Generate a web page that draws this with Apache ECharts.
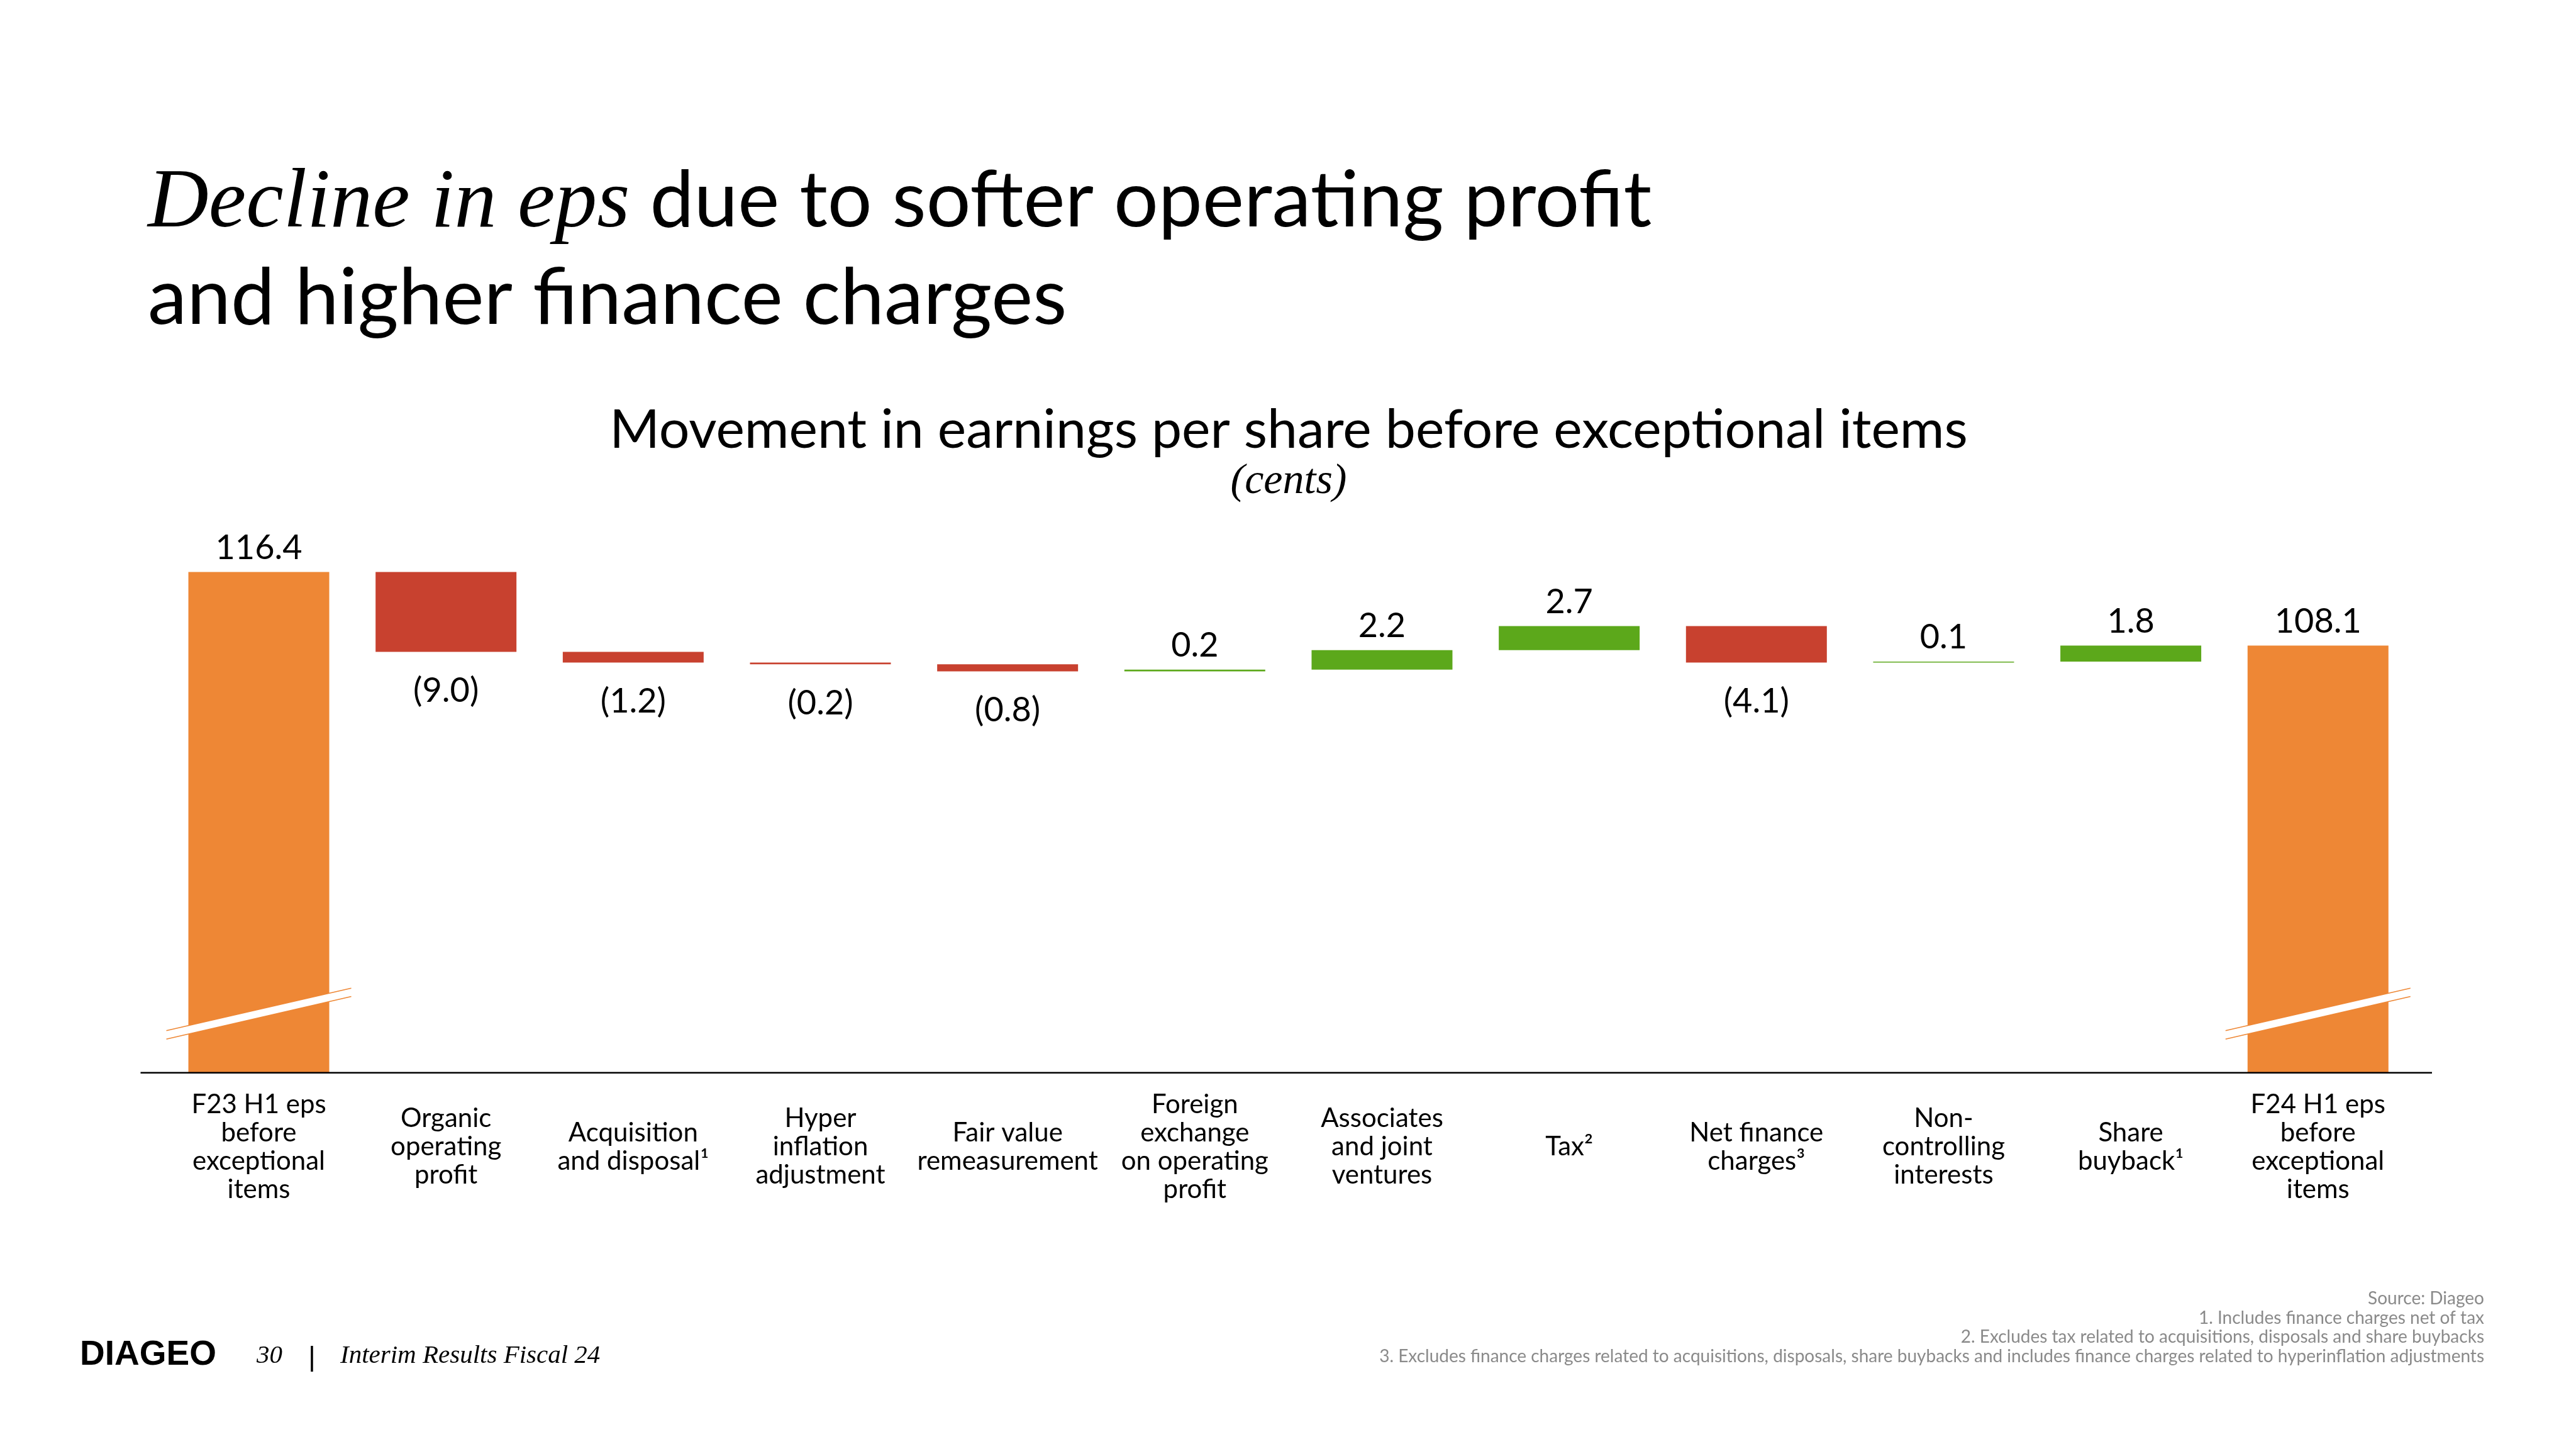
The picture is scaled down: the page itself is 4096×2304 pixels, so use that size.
<!DOCTYPE html>
<html><head><meta charset="utf-8">
<script src="https://cdn.jsdelivr.net/npm/echarts@6/dist/echarts.min.js"></script>
<style>html,body{margin:0;padding:0;background:#fff}#c{width:4096px;height:2304px}</style>
</head><body><div id="c"></div>
<script>
// ---------- data ----------
const categories = [
  'F23 H1 eps\nbefore\nexceptional\nitems',
  'Organic\noperating\nprofit',
  'Acquisition\nand disposal¹',
  'Hyper\ninflation\nadjustment',
  'Fair value\nremeasurement',
  'Foreign\nexchange\non operating\nprofit',
  'Associates\nand joint\nventures',
  'Tax²',
  'Net finance\ncharges³',
  'Non-\ncontrolling\ninterests',
  'Share\nbuyback¹',
  'F24 H1 eps\nbefore\nexceptional\nitems'
];
const startTotal = 116.4;
const endTotal = 108.1;
const movements = [-9.0, -1.2, -0.2, -0.8, 0.2, 2.2, 2.7, -4.1, 0.1, 1.8];
const axisMin = 60;
const axisMax = 120;
const footnotes = [
  'Source: Diageo',
  '1. Includes finance charges net of tax',
  '2. Excludes tax related to acquisitions, disposals and share buybacks',
  '3. Excludes finance charges related to acquisitions, disposals, share buybacks and includes finance charges related to hyperinflation adjustments'
];

// ---------- styling ----------
const ORANGE = '#EE8735', RED = '#C8412F', GREEN = '#5CA81B';
const SANS = 'Lato', SERIF = '"Liberation Serif"';

// ---------- build waterfall series ----------
const totalsData = categories.map(() => '-');
totalsData[0] = startTotal;
totalsData[categories.length - 1] = endTotal;
const baseData = ['-'];
const deltaData = [{ value: '-' }];
let level = startTotal;
movements.forEach(m => {
  const next = level + m;
  baseData.push(+Math.min(level, next).toFixed(2));
  deltaData.push({
    value: Math.abs(m),
    itemStyle: { color: m < 0 ? RED : GREEN },
    label: { position: m < 0 ? 'bottom' : 'top', distance: m < 0 ? 35 : 11 }
  });
  level = next;
});
baseData.push('-');
deltaData.push({ value: '-' });

const chart = echarts.init(document.getElementById('c'), null, { renderer: 'canvas', width: 4096, height: 2304 });
const labelStyle = { show: true, fontFamily: SANS, fontSize: 54, color: '#000' };

chart.setOption({
  animation: false,
  backgroundColor: '#fff',
  grid: { left: 262.7, right: 261.4, top: 858.6, bottom: 598.3, containLabel: false, outerBoundsMode: 'none' },
  xAxis: {
    type: 'category', data: categories,
    axisLine: { show: false }, axisTick: { show: false }, splitLine: { show: false },
    axisLabel: { interval: 0, fontFamily: SANS, fontSize: 42, lineHeight: 45, color: '#000',
                 margin: 118, verticalAlign: 'middle', align: 'center' }
  },
  yAxis: { type: 'value', min: axisMin, max: axisMax, show: false, splitLine: { show: false } },
  series: [
    { name: 'Total', type: 'bar', data: totalsData, barWidth: 224, barGap: '-100%',
      itemStyle: { color: ORANGE },
      label: Object.assign({}, labelStyle, { position: 'top', distance: 11,
        formatter: p => (+p.value).toFixed(1) }) },
    { name: 'Base', type: 'bar', stack: 'w', data: baseData, barWidth: 224, barGap: '-100%',
      itemStyle: { color: 'rgba(0,0,0,0)' }, emphasis: { disabled: true }, silent: true },
    { name: 'Movement', type: 'bar', stack: 'w', data: deltaData, barWidth: 224, barGap: '-100%',
      label: Object.assign({}, labelStyle, {
        formatter: p => { const m = movements[p.dataIndex - 1]; return m < 0 ? '(' + Math.abs(m).toFixed(1) + ')' : m.toFixed(1); } }) }
  ]
});

// ---------- texts & decorations ----------
const cv = document.createElement('canvas').getContext('2d');
function midY(font, baseline) { cv.font = font; cv.textBaseline = 'middle'; return baseline - cv.measureText('H').actualBoundingBoxDescent; }
function textW(font, s) { cv.font = font; cv.textBaseline = 'alphabetic'; return cv.measureText(s).width; }
function txt(id, s, font, x, baseline, align, fill) {
  return { type: 'text', id: id, z: 50, style: { text: s, font: font, x: x, y: midY(font, baseline),
           textAlign: align || 'left', textVerticalAlign: 'middle', fill: fill || '#000' } };
}

const g = [];
const fSerifTitle = 'italic 134px ' + SERIF;
const fSansTitle = '125px ' + SANS;
const tx = 235;
g.push(txt('t1', 'Decline in eps', fSerifTitle, tx, 360));
g.push(txt('t2', 'due to softer operating profit', fSansTitle, tx + textW(fSerifTitle, 'Decline in eps') + textW(fSansTitle, ' '), 360));
g.push(txt('t3', 'and higher finance charges', fSansTitle, tx, 515));
g.push(txt('st', 'Movement in earnings per share before exceptional items', '86px ' + SANS, 2049, 712, 'center'));
g.push(txt('cents', '(cents)', 'italic 68px ' + SERIF, 2049, 784, 'center'));

// footer
g.push(txt('logo', 'DIAGEO', 'bold 55px "Liberation Sans"', 127, 2170));
g.push(txt('pg', '30', 'italic 41px ' + SERIF, 408, 2167));
g.push(txt('bar', '|', '44px "Liberation Sans"', 496, 2172, 'center'));
g.push(txt('doc', 'Interim Results Fiscal 24', 'italic 41px ' + SERIF, 541, 2167));
const fnBase = [2074, 2105, 2135, 2166];
footnotes.forEach((s, i) => g.push(txt('fn' + i, s, '28px ' + SANS, 3950, fnBase[i], 'right', '#8a8a8a')));

// axis line (extends past the category band like the original)
const yAxisPx = chart.convertToPixel({ yAxisIndex: 0 }, axisMin);
g.push({ type: 'line', id: 'axis', z: 40, shape: { x1: 223.5, y1: yAxisPx, x2: 3867, y2: yAxisPx },
         style: { stroke: '#000', lineWidth: 2.5 } });

// axis-break marks on the two total bars
[0, categories.length - 1].forEach((idx, k) => {
  const cx = chart.convertToPixel({ xAxisIndex: 0 }, idx);
  const cy = yAxisPx - 94;
  const hw = 147, slope = 0.23, gap = 6.7;
  const yAt = (x) => cy - slope * (x - cx);
  const x1 = cx - hw, x2 = cx + hw;
  g.push({ type: 'polygon', id: 'brk' + k, z: 45,
           shape: { points: [[x1, yAt(x1) - gap], [x2, yAt(x2) - gap], [x2, yAt(x2) + gap], [x1, yAt(x1) + gap]] },
           style: { fill: '#fff' } });
  g.push({ type: 'line', id: 'brkU' + k, z: 46, shape: { x1: x1, y1: yAt(x1) - gap, x2: x2, y2: yAt(x2) - gap },
           style: { stroke: ORANGE, lineWidth: 1.6 } });
  g.push({ type: 'line', id: 'brkL' + k, z: 46, shape: { x1: x1, y1: yAt(x1) + gap, x2: x2, y2: yAt(x2) + gap },
           style: { stroke: ORANGE, lineWidth: 1.6 } });
});

chart.setOption({ graphic: g });
</script></body></html>
